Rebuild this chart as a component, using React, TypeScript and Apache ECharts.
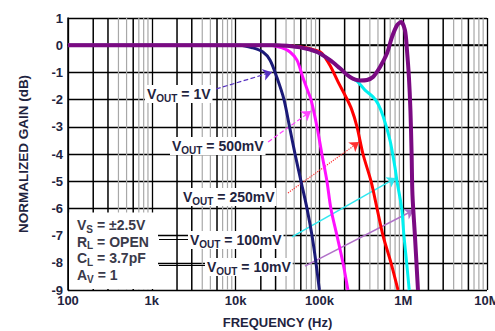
import React, { useEffect, useRef } from "react";
import * as echarts from "echarts";

const FONT = '"Liberation Sans", Arial, Helvetica, sans-serif';
const TXT = "#1f2440";

const xTickLabels = ["100", "1k", "10k", "100k", "1M", "10M"];
const decades = [100, 1000, 10000, 100000, 1000000];
const minorMultipliers = [2, 3, 4, 5, 6, 7, 8, 9];
const darkMinor = [2, 3, 6];

// frequency (Hz), normalized gain (dB)
const vout1V: [number, number][] = [
  [100, 0], [1000, 0], [5000, 0], [11300, 0], [16100, -0.1], [21200, -0.25],
  [25800, -0.55], [31200, -1.2], [37800, -2.0], [44000, -3], [51200, -4],
  [60300, -5], [71100, -6], [81600, -7], [91000, -8], [100000, -9],
];
const vout500mV: [number, number][] = [
  [100, 0], [1000, 0], [10000, 0], [25800, 0], [35800, -0.1], [44600, -0.25],
  [54000, -0.55], [63700, -1.2], [73100, -1.7], [79400, -2.0], [93600, -3],
  [107000, -4], [123000, -5], [137000, -6], [162000, -7], [191000, -8], [219000, -9],
];
const vout250mV: [number, number][] = [
  [100, 0], [1000, 0], [10000, 0], [30000, 0], [58600, -0.06], [93600, -0.2],
  [107000, -0.3], [134000, -0.75], [167000, -1.35], [207000, -1.9], [242000, -2.35],
  [281000, -3], [331000, -4], [413000, -5], [487000, -6], [574000, -7],
  [715000, -8], [867000, -9],
];
const vout100mV: [number, number][] = [
  [100, 0], [1000, 0], [10000, 0], [30000, 0], [58600, -0.08], [93600, -0.25],
  [134000, -0.55], [176000, -0.85], [232000, -1.17], [281000, -1.32], [350000, -1.65],
  [436000, -1.9], [500000, -2.15], [574000, -2.6], [696000, -3.5], [798000, -4.5],
  [843000, -5], [959000, -6], [1020000, -7], [1100000, -8], [1180000, -9],
];
const vout10mV: [number, number][] = [
  [100, 0], [1000, 0], [10000, 0], [30000, 0], [58600, -0.08], [93600, -0.25],
  [134000, -0.55], [176000, -0.85], [232000, -1.17], [305000, -1.3], [370000, -1.28],
  [436000, -1.17], [529000, -0.8], [641000, -0.3], [735000, 0.3], [843000, 0.73],
  [942000, 0.85], [1050000, 0.55], [1110000, -0.2], [1170000, -1.17], [1220000, -2.4],
  [1260000, -4], [1290000, -5.5], [1380000, -7], [1500000, -9],
];

// annotation arrows: [start, end] in (Hz, dB)
const arrow1V: [number, number][] = [[5840, -1.61], [27200, -0.99]];
const arrow500mV: [number, number][] = [[24400, -3.56], [79400, -2.42]];
const arrow250mV: [number, number][] = [[42200, -5.43], [297000, -3.56]];
const arrow100mV: [number, number][] = [[47100, -7.05], [820000, -4.88]];
const arrow10mV: [number, number][] = [[67300, -8.12], [1345000, -6.06]];

const labelValues = ["1V", "500mV", "250mV", "100mV", "10mV"];
const conditionLines: [string, string, string][] = [
  ["V", "S", " = ±2.5V"],
  ["R", "L", " = OPEN"],
  ["C", "L", " = 3.7pF"],
  ["A", "V", " = 1"],
];

const Y_MIN = -9;
const Y_MAX = 1;

const richStyle = (color: string) => ({
  v: { fontSize: 14, fontWeight: "bold", fontFamily: FONT, fill: color, color, lineHeight: 18 },
  s: { fontSize: 10, fontWeight: "bold", fontFamily: FONT, fill: color, color, lineHeight: 10, verticalAlign: "bottom" },
});

function voutLabel(value: string, x: number, y: number) {
  return {
    type: "text",
    x,
    y,
    z: 100,
    style: {
      text: `{v|V}{s|OUT}{v| = ${value}}`,
      rich: richStyle(TXT),
      align: "left",
      verticalAlign: "middle",
      textAlign: "left",
      textVerticalAlign: "middle",
      backgroundColor: "#fff",
      padding: [0, 2, 0, 2],
    },
  };
}

export default function App() {
  const ref = useRef<HTMLDivElement>(null);
  useEffect(() => {
    if (!ref.current) return;
    const chart = echarts.init(ref.current, undefined, { renderer: "svg" });

    const minorSeries: any[] = [];
    decades.forEach((d) =>
      minorMultipliers.forEach((m) => {
        const dark = darkMinor.includes(m);
        minorSeries.push({
          type: "line",
          data: [[d * m, Y_MIN], [d * m, Y_MAX]],
          showSymbol: false,
          symbol: "none",
          silent: true,
          z: 4,
          lineStyle: { color: dark ? "#000000" : "#a8a8a8", width: dark ? 1.5 : 1.2 },
        });
      })
    );

    const mkArrow = (a: [number, number][], color: string, type: string, width: number) => [
      { coord: a[0], lineStyle: { color, type, width } },
      { coord: a[1] },
    ];

    const curve = (name: string, data: [number, number][], color: string, width: number, z: number) => ({
      type: "line",
      name,
      data,
      smooth: 0.3,
      showSymbol: false,
      symbol: "none",
      z,
      lineStyle: { color, width },
      silent: true,
    });

    const labelPos: [number, number][] = [[145, 94], [170, 146], [181, 197], [188, 240], [205, 267]];

    const option: any = {
      animation: false,
      grid: { left: 68, top: 18, width: 419, height: 272, outerBoundsMode: "none", containLabel: false },
      xAxis: {
        type: "log",
        logBase: 10,
        min: 100,
        max: 10000000,
        axisLine: { show: true, lineStyle: { color: "#000", width: 1.5 } },
        axisTick: { show: false },
        splitLine: { show: true, lineStyle: { color: "#000", width: 1.3 } },
        axisLabel: {
          formatter: (v: number) => xTickLabels[Math.round(Math.log10(v)) - 2] ?? "",
          color: TXT,
          fontFamily: FONT,
          fontWeight: "bold",
          fontSize: 13,
          margin: 4,
          hideOverlap: false,
        },
        name: "FREQUENCY (Hz)",
        nameLocation: "middle",
        nameGap: 26,
        nameTextStyle: { color: TXT, fontFamily: FONT, fontWeight: "bold", fontSize: 13 },
      },
      yAxis: {
        type: "value",
        min: Y_MIN,
        max: Y_MAX,
        interval: 1,
        axisLine: { show: true, lineStyle: { color: "#000", width: 1.5 } },
        axisTick: { show: true, inside: true, length: 4, lineStyle: { color: "#000" } },
        splitLine: { show: true, lineStyle: { color: "#000", width: 1.3 } },
        axisLabel: {
          color: TXT,
          fontFamily: FONT,
          fontWeight: "bold",
          fontSize: 13,
          margin: 5,
        },
        name: "NORMALIZED GAIN (dB)",
        nameLocation: "middle",
        nameGap: 38,
        nameTextStyle: { color: TXT, fontFamily: FONT, fontWeight: "bold", fontSize: 13.5 },
      },
      series: [
        ...minorSeries,
        curve("1V", vout1V, "#1b1a78", 3, 5),
        curve("500mV", vout500mV, "#ff10ff", 3, 5),
        curve("250mV", vout250mV, "#ff0000", 3, 5),
        curve("100mV", vout100mV, "#00f0f0", 3, 5),
        curve("10mV", vout10mV, "#7a0a82", 4, 6),
        {
          type: "line",
          data: [],
          z: 7,
          silent: true,
          markLine: {
            silent: true,
            symbol: ["none", "arrow"],
            symbolSize: 9,
            label: { show: false },
            animation: false,
            data: [
              mkArrow(arrow1V, "#5530c0", "dashed", 1.2),
              mkArrow(arrow500mV, "#ff44ff", "dashed", 1.2),
              mkArrow(arrow250mV, "#ff3030", "dotted", 1.2),
              mkArrow(arrow100mV, "#30e8f0", "solid", 1.5),
              mkArrow(arrow10mV, "#b070c8", "solid", 1.5),
            ],
          },
        },
      ],
      graphic: [
        ...labelValues.map((v, i) => voutLabel(v, labelPos[i][0], labelPos[i][1])),
        {
          type: "rect",
          z: 90,
          shape: { x: 69, y: 212.5, width: 89, height: 76.5 },
          style: { fill: "#fff" },
        },
        {
          type: "line",
          z: 95,
          shape: { x1: 159, y1: 239.5, x2: 189, y2: 239.5 },
          style: { stroke: "#000", lineWidth: 1 },
        },
        {
          type: "line",
          z: 95,
          shape: { x1: 159, y1: 265.5, x2: 206, y2: 265.5 },
          style: { stroke: "#000", lineWidth: 1 },
        },
        ...conditionLines.map((c, i) => ({
          type: "text",
          x: 77,
          y: 225 + i * 16.7,
          z: 100,
          style: {
            text: `{v|${c[0]}}{s|${c[1]}}{v|${c[2]}}`,
            rich: richStyle("#3a3a4a"),
            align: "left",
            verticalAlign: "middle",
            textAlign: "left",
            textVerticalAlign: "middle",
          },
        })),
      ],
    };

    chart.setOption(option);
    return () => chart.dispose();
  }, []);

  return (
    <div
      ref={ref}
      style={{ position: "fixed", left: 0, top: 0, width: 495, height: 331, background: "#fff" }}
    />
  );
}
